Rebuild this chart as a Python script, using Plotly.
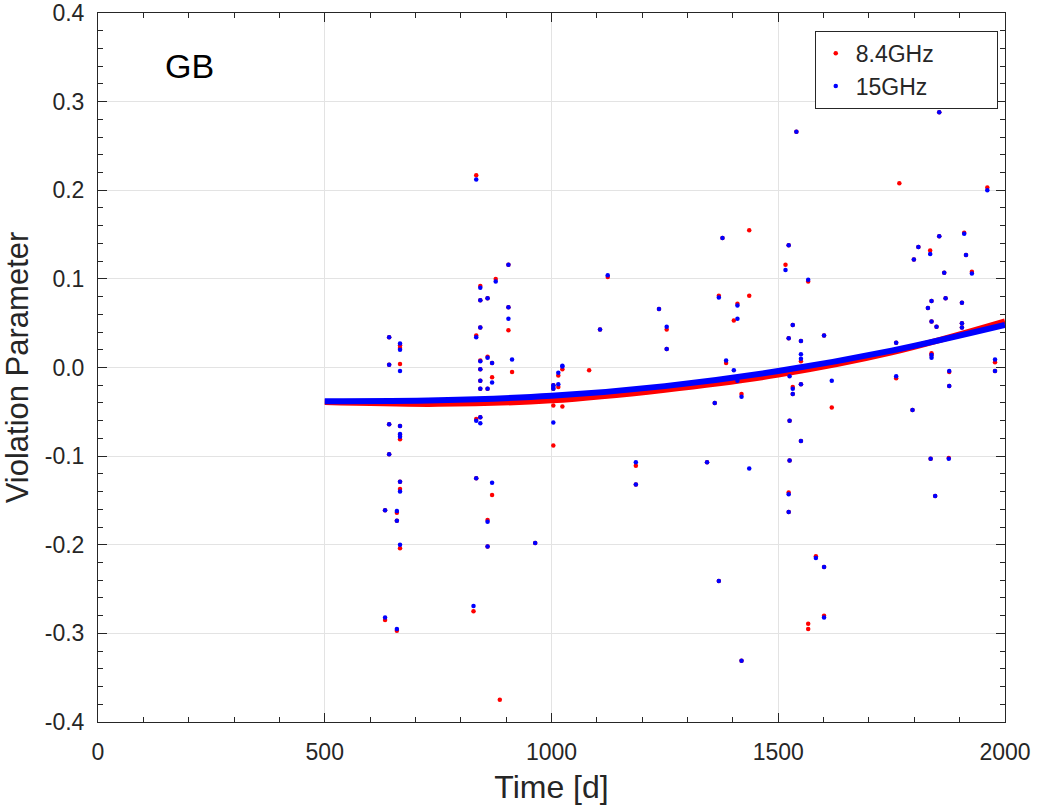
import plotly.graph_objects as go

# ---- data ----
t_84 = [633, 633, 642, 642, 642, 642, 659, 659, 659,
        666, 666, 666, 666, 666, 666, 666, 666, 666,
        828, 834, 834, 834, 834,
        843, 843, 843, 843, 843, 843, 843, 843,
        859, 859, 859, 859, 859, 869, 869, 869, 877, 886,
        905, 905, 905, 913, 964,
        1004, 1004, 1004, 1004, 1015, 1015, 1024, 1024, 1083,
        1107, 1124, 1186, 1186, 1237, 1254, 1254,
        1343, 1360, 1369, 1369, 1377, 1385, 1402, 1410, 1419, 1419, 1436, 1436,
        1516, 1523, 1523, 1523, 1523, 1525, 1525, 1532, 1532, 1532, 1540,
        1550, 1550, 1550, 1550, 1566, 1566, 1566, 1583, 1601, 1601, 1601, 1618,
        1760, 1760, 1767, 1796, 1799, 1809, 1830, 1835, 1836,
        1838, 1838, 1838, 1838, 1846, 1849, 1855, 1855, 1866, 1869,
        1876, 1877, 1877, 1905, 1905, 1905, 1910, 1914, 1927, 1961, 1978, 1978]
v_84 = [-0.161, -0.285, 0.034, 0.003, -0.064, -0.098, -0.164, -0.173, -0.297,
        0.025, 0.022, 0.004, -0.066, -0.076, -0.081, -0.129, -0.137, -0.204,
        -0.275, 0.217, 0.036, -0.058, -0.125,
        0.092, 0.076, 0.045, 0.008, -0.002, -0.015, -0.024, -0.056,
        0.078, 0.012, -0.024, -0.172, -0.202, 0.005, -0.011, -0.144, 0.100, -0.375,
        0.116, 0.068, 0.042, -0.005, -0.198,
        -0.020, -0.024, -0.043, -0.088, -0.009, -0.022, -0.002, -0.044, -0.003,
        0.043, 0.102, -0.111, -0.132, 0.066, 0.043, 0.021,
        -0.107, -0.040, 0.081, -0.241, 0.146, 0.005, 0.053, 0.072, -0.030, -0.331, 0.155, 0.081,
        0.116, 0.138, 0.033, -0.141, -0.163, -0.060, -0.105, 0.048, -0.022, -0.030, 0.266,
        0.030, 0.007, -0.019, -0.083, 0.097, -0.289, -0.295, -0.213, 0.036, -0.225, -0.280, -0.045,
        0.028, -0.012, 0.208, -0.048, 0.122, 0.136, 0.067, 0.132, -0.103,
        0.075, 0.052, 0.016, 0.014, -0.145, 0.046, 0.288, 0.148, 0.107, 0.078,
        -0.102, -0.005, -0.021, 0.073, 0.050, 0.045, 0.152, 0.127, 0.108, 0.203, 0.006, -0.004]

t_15 = [633, 633, 642, 642, 642, 642, 659, 659, 659,
        666, 666, 666, 666, 666, 666, 666, 666, 666,
        828, 834, 834, 834, 834,
        843, 843, 843, 843, 843, 843, 843, 843, 843,
        859, 859, 859, 859, 859, 869, 869, 869, 877,
        905, 905, 905, 913, 964,
        1004, 1004, 1004, 1004, 1015, 1015, 1024, 1024,
        1107, 1124, 1186, 1186, 1237, 1254, 1254,
        1343, 1360, 1369, 1369, 1377, 1385, 1402, 1410, 1410, 1410, 1419, 1419, 1436,
        1516, 1523, 1523, 1523, 1523, 1525, 1525, 1525, 1532, 1532, 1532, 1540,
        1550, 1550, 1550, 1550, 1550, 1566, 1583, 1601, 1601, 1601, 1618,
        1760, 1760, 1796, 1799, 1809, 1830, 1835, 1836,
        1838, 1838, 1838, 1838, 1846, 1849, 1855, 1855, 1866, 1869,
        1876, 1877, 1877, 1905, 1905, 1905, 1910, 1914, 1927, 1961, 1978, 1978]
v_15 = [-0.161, -0.282, 0.034, 0.003, -0.064, -0.098, -0.162, -0.173, -0.295,
        0.027, 0.020, -0.004, -0.066, -0.075, -0.078, -0.129, -0.140, -0.200,
        -0.269, 0.212, 0.034, -0.060, -0.125,
        0.090, 0.076, 0.045, 0.007, -0.002, -0.015, -0.024, -0.056, -0.063,
        0.078, 0.011, -0.024, -0.174, -0.202, 0.005, -0.017, -0.130, 0.097,
        0.116, 0.068, 0.055, 0.009, -0.198,
        -0.020, -0.022, -0.024, -0.062, -0.006, -0.019, 0.002, 0.001,
        0.043, 0.104, -0.107, -0.132, 0.066, 0.046, 0.021,
        -0.107, -0.040, 0.079, -0.241, 0.146, 0.008, -0.003, 0.070, 0.055, -0.015, -0.033, -0.331, -0.114,
        0.110, 0.138, 0.033, -0.143, -0.163, -0.010, -0.060, -0.105, 0.048, -0.024, -0.030, 0.266,
        0.030, 0.015, 0.010, -0.019, -0.083, 0.099, -0.215, 0.036, -0.225, -0.282, -0.015,
        0.028, -0.010, -0.048, 0.122, 0.136, 0.067, 0.128, -0.103,
        0.075, 0.052, 0.014, 0.011, -0.145, 0.046, 0.288, 0.148, 0.107, 0.078,
        -0.103, -0.004, -0.021, 0.073, 0.050, 0.045, 0.151, 0.127, 0.106, 0.200, 0.009, -0.004]

# fitted trend curves
fit_t = [500, 750, 1000, 1250, 1500, 1750, 2000]
fit_84 = [-0.039, -0.041, -0.037, -0.025, -0.008, 0.017, 0.052]
fit_15 = [-0.038, -0.037, -0.032, -0.021, -0.004, 0.019, 0.048]

x_ticks = [0, 500, 1000, 1500, 2000]
y_ticks = [-0.4, -0.3, -0.2, -0.1, 0.0, 0.1, 0.2, 0.3, 0.4]
y_tick_labels = ["-0.4", "-0.3", "-0.2", "-0.1", "0.0", "0.1", "0.2", "0.3", "0.4"]
series_names = ["8.4GHz", "15GHz"]

RED = "#ff0000"
BLUE = "#0000ff"
AX = "#262626"
FONT = "Liberation Sans, Arial, sans-serif"
PAD = "\u00a0" * 9   # widen legend box like the reference

fig = go.Figure()
fig.add_trace(go.Scatter(x=fit_t, y=fit_84, mode="lines", line=dict(color=RED, width=6, shape="spline"),
                         showlegend=False, hoverinfo="skip"))
fig.add_trace(go.Scatter(x=fit_t, y=fit_15, mode="lines", line=dict(color=BLUE, width=6, shape="spline"),
                         showlegend=False, hoverinfo="skip"))
fig.add_trace(go.Scatter(x=t_84, y=v_84, mode="markers", name=series_names[0] + PAD,
                         marker=dict(color=RED, size=4.5)))
fig.add_trace(go.Scatter(x=t_15, y=v_15, mode="markers", name=series_names[1] + PAD,
                         marker=dict(color=BLUE, size=4.5)))

axis_common = dict(
    showline=True, linecolor=AX, linewidth=1, mirror="allticks",
    ticks="inside", ticklen=9, tickwidth=1, tickcolor=AX,
    showgrid=True, gridcolor="#e3e3e3", gridwidth=1, zeroline=False,
    tickfont=dict(family=FONT, size=23, color=AX), automargin=False,
    ticklabeloverflow="allow",
)

fig.update_xaxes(range=[0, 2000], tickvals=x_ticks,
                 minor=dict(ticks="inside", ticklen=5, tickcolor=AX, dtick=100, showgrid=False),
                 title=dict(text="Time [d]", font=dict(family=FONT, size=32, color=AX), standoff=12),
                 ticklabelstandoff=9, **axis_common)
fig.update_yaxes(range=[-0.4, 0.4], tickvals=y_ticks, ticktext=y_tick_labels,
                 minor=dict(ticks="inside", ticklen=5, tickcolor=AX, dtick=0.02, showgrid=False),
                 title=dict(text="Violation Parameter", font=dict(family=FONT, size=31, color=AX), standoff=17),
                 ticklabelstandoff=8, **axis_common)

fig.add_annotation(text="GB", xref="paper", yref="paper", x=0.101, y=0.925,
                   xanchor="center", yanchor="middle",
                   showarrow=False, font=dict(family=FONT, size=34, color="black"))

fig.update_layout(
    width=1038, height=809,
    margin=dict(l=98, r=33, t=13, b=87),
    paper_bgcolor="white", plot_bgcolor="white",
    legend=dict(x=0.992, y=0.975, xanchor="right", yanchor="top",
                bgcolor="white", bordercolor=AX, borderwidth=1,
                font=dict(family=FONT, size=23, color=AX),
                itemsizing="trace", tracegroupgap=0),
    showlegend=True,
)

fig.write_html("out.html")
